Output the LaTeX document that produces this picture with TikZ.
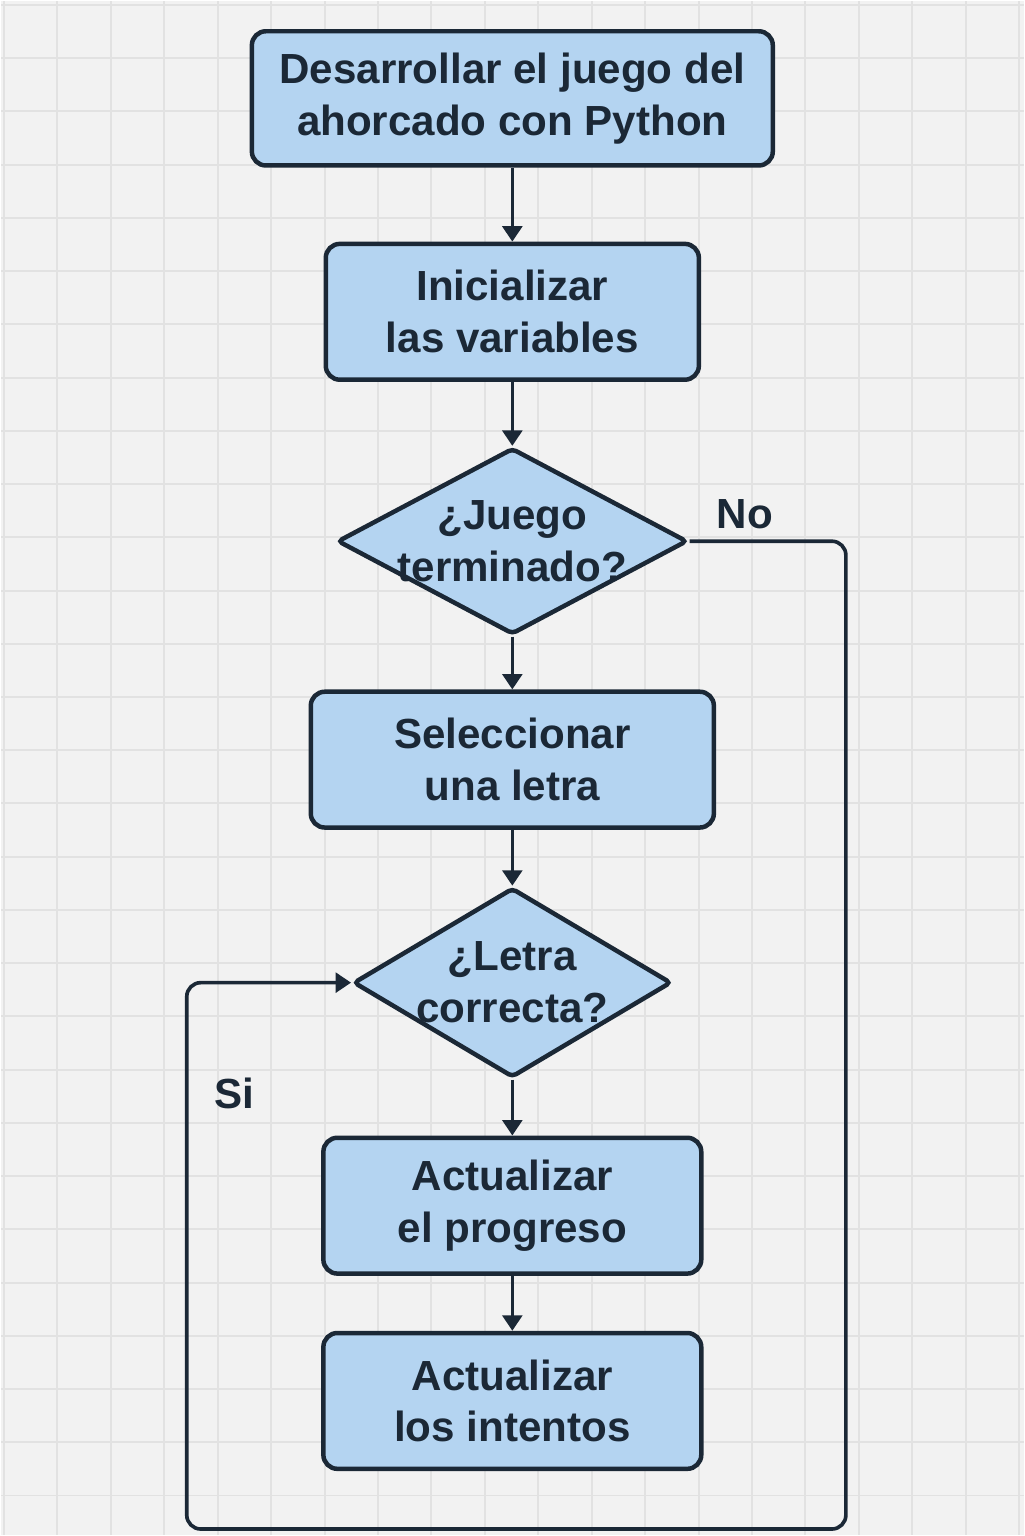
\documentclass[tikz,border=0pt]{standalone}
\usepackage{fontspec}
\setmainfont{Liberation Sans}
\usetikzlibrary{arrows.meta, positioning, shapes.geometric}
\definecolor{paper}{HTML}{F2F2F2}
\definecolor{gridc}{HTML}{E2E2E2}
\definecolor{boxfill}{HTML}{B4D4F1}
\definecolor{ink}{HTML}{1B2836}

\begin{document}
\begin{tikzpicture}[x=0.25mm, y=-0.25mm, font=\bfseries\fontsize{30}{37}\selectfont,
    >={Triangle[length=11pt, width=14pt]},
    box/.style={draw=ink, line width=3.2pt, fill=boxfill, text=ink, rounded corners=10pt,
      align=center, minimum height=34mm},
    dia/.style={diamond, draw=ink, line width=3.2pt, fill=boxfill, inner sep=0pt, rounded corners=3pt},
    dtxt/.style={align=center, text=ink},
    flow/.style={->, draw=ink, line width=2.6pt},
    lbl/.style={text=ink}]

  % paper with grid
  \fill[paper] (0,0) rectangle (1024,1536);
  \foreach \i in {0,...,19}
    \draw[gridc, line width=1.4pt] (3+53.5*\i,0) -- (3+53.5*\i,1536);
  \foreach \j in {0,...,28}
    \draw[gridc, line width=1.4pt] (0,4+53.3*\j) -- (1024,4+53.3*\j);
  \useasboundingbox (0,0) rectangle (1024,1536);

  \node[box, minimum width=130.4mm, minimum height=33.6mm] (top) at (512,97.5) {Desarrollar el juego del\\ahorcado con Python};
  \node[box, minimum width=93.4mm, below=18.5mm of top] (init) {Inicializar\\las variables};
  \node[dia, minimum width=87.6mm, minimum height=46.6mm, below=16mm of init,
    label={[dtxt]center:¿Juego\\terminado?}] (fin) {};
  \node[box, minimum width=100.9mm, below=13.25mm of fin] (sel) {Seleccionar\\una letra};
  \node[dia, minimum width=79.6mm, minimum height=47.4mm, below=14mm of sel,
    label={[dtxt]center:¿Letra\\correcta?}] (ok) {};
  \node[box, minimum width=94.6mm, below=14mm of ok] (prog) {Actualizar\\el progreso};
  \node[box, minimum width=94.6mm, below=13.75mm of prog] (tries) {Actualizar\\los intentos};

  \draw[flow] (top) -- (init);
  \draw[flow] (init) -- (fin);
  \draw[flow] (fin) -- (sel);
  \draw[flow] (sel) -- (ok);
  \draw[flow] (ok) -- (prog);
  \draw[flow] (prog) -- (tries);

  % loop back round the chart
  \coordinate (loopR) at (846,1530);
  \coordinate (loopL) at (186,1530);
  \draw[flow, rounded corners=10pt] (fin.east) -| (loopR) -- (loopL) |- (ok.west);

  \node[lbl] (no) at (745,514) {No};
  \node[lbl] (si) at (234,1094) {Si};
\end{tikzpicture}
\end{document}
